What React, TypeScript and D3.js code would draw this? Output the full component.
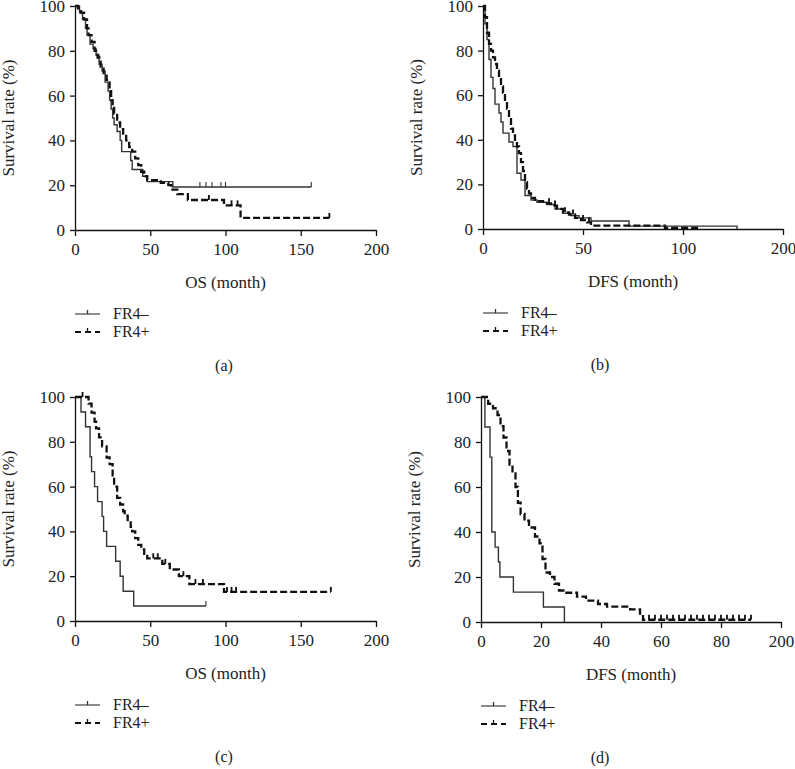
import { useEffect, useRef } from 'react';
import * as d3 from 'd3';

// ---------- data ----------
const yTicks = [0, 20, 40, 60, 80, 100];
const osTicks = [0, 50, 100, 150, 200];
const osTickLabels = ['0', '50', '100', '150', '200'];
const dfsBTicks = [0, 50, 100, 150];
const dfsBTickLabels = ['0', '50', '100', '200'];
const dfsDTicks = [0, 20, 40, 60, 80, 100];
const dfsDTickLabels = ['0', '20', '40', '60', '80', '200'];
const groupNames = ['FR4\u2013', 'FR4+'];

// (a) OS, all patients
const aNegT = [3, 5, 7, 8, 10, 12, 14, 16, 18, 20, 22, 23, 24, 25, 26, 28, 30, 31, 37, 38, 45, 48, 65];
const aNegS = [97, 94, 90, 87, 83, 81, 78, 74, 71, 66, 62, 58, 54, 50, 47, 44, 40, 35, 31, 27, 24, 21.6, 19.2];
const aNegCensor = [83, 87, 91, 97, 100, 157];
const aNegEnd = 157;
const aPosT = [2, 4, 6, 8, 9, 11, 13, 15, 17, 19, 21, 23, 24, 25, 26, 28, 30, 32, 34, 36, 38, 40, 42, 44, 46, 48, 57, 62, 64, 68, 75, 99, 110];
const aPosS = [99, 97, 94, 90, 87, 84, 80, 77, 73, 70, 67, 62, 58, 55, 52, 48, 45, 43, 40, 37, 35, 32, 29, 26, 24, 22.3, 21, 20, 18, 16, 13.4, 11, 5.4];
const aPosCensor = [89, 104, 108, 169];
const aPosEnd = 169;

// (b) DFS, all patients
const bNegT = [1, 2, 3, 4, 5, 6, 8, 9, 10, 13, 15, 17, 19, 21, 24, 27, 32, 36, 40, 44, 48, 54, 73, 127];
const bNegS = [92, 85, 76, 68, 63, 56, 52, 48, 43, 39, 37, 25, 22, 15, 13, 12, 11, 9, 7, 6, 5, 3.6, 1.3, 0];
const bNegCensor: number[] = [];
const bNegEnd = 127;
const bPosT = [1, 2, 3, 4, 5, 6, 7, 8, 9, 10, 11, 12, 13, 14, 15, 16, 17, 18, 19, 20, 21, 22, 23, 24, 26, 30, 34, 37, 40, 43, 46, 49, 52, 54, 91];
const bPosS = [95, 88, 83, 80, 77, 74, 71, 68, 64, 61, 57, 54, 50, 45, 42, 40, 37, 34, 30, 26, 21, 18, 16, 14, 12.5, 11.5, 10.5, 9, 7.5, 6.5, 5, 4, 3, 1.5, 0.5];
const bPosCensor = [33, 36, 41, 45, 50, 53];
const bPosEnd = 108;

// (c) OS, subgroup
const cNegT = [4, 7, 10, 11, 13, 15, 18, 19, 21, 27, 30, 32, 39];
const cNegS = [93.3, 86.7, 73.3, 66.7, 60, 53.3, 46.7, 40, 33.3, 26.7, 20, 13.3, 6.7];
const cNegCensor = [87];
const cNegEnd = 87;
const cPosT = [9, 11, 13, 14, 16, 18, 21, 23, 25, 26, 28, 30, 32, 33, 35, 37, 38, 40, 42, 44, 46, 48, 58, 63, 69, 76, 99];
const cPosS = [97, 93, 89, 86, 82, 78, 73, 70, 65, 60, 55, 52, 49, 47, 44, 42, 40, 37, 34, 32, 30, 28, 25.5, 23, 20, 16.5, 13];
const cPosCensor = [5, 52, 55, 60, 72, 80, 85, 101, 104, 107, 170];
const cPosEnd = 170;

// (d) DFS, subgroup
const dNegT = [1.3, 3, 3.6, 4.7, 5.8, 6.3, 10.8, 20.8, 27.8];
const dNegS = [86.7, 73.3, 40, 33.3, 26.7, 20, 13.3, 6.7, 0];
const dNegCensor: number[] = [];
const dNegEnd = 27.8;
const dPosT = [2.4, 4, 5.5, 6.5, 7.5, 8.5, 9.5, 10.5, 11.5, 12.3, 13.2, 14.5, 16, 18, 19.5, 20.5, 21.5, 23, 24.5, 26, 28, 32, 35, 39, 42, 49.7, 53, 54];
const dPosS = [97, 95, 92, 87, 82, 76, 70, 66, 60, 53, 48, 45, 42, 38, 35, 28, 22, 20, 17, 14, 13, 11.3, 9.5, 8, 6.8, 5.6, 3.7, 1];
const dPosCensor = [56, 58, 60, 62, 64, 66, 68, 70, 72, 74, 76, 78, 80, 82, 84, 86, 88, 90];
const dPosEnd = 90;

interface Curve {
  times: number[];
  surv: number[];
  censor: number[];
  end: number;
}

interface PanelSpec {
  x0: number;
  x1: number;
  yTop: number;
  yBottom: number;
  xMax: number;
  ticks: number[];
  tickLabels: string[];
  xTitle: string;
  caption: string;
  captionX: number;
  neg: Curve;
  pos: Curve;
}

const FONT = "'Liberation Serif', 'Times New Roman', serif";

function stepPoints(c: Curve): [number, number][] {
  const pts: [number, number][] = [[0, 100]];
  let s = 100;
  c.times.forEach((t, i) => {
    pts.push([t, s]);
    s = c.surv[i];
    pts.push([t, s]);
  });
  pts.push([c.end, s]);
  return pts;
}

function survAt(c: Curve, t: number) {
  let s = 100;
  c.times.forEach((ti, i) => {
    if (ti <= t) s = c.surv[i];
  });
  return s;
}

function Panel({ spec }: { spec: PanelSpec }) {
  const ref = useRef<SVGGElement>(null);

  useEffect(() => {
    if (!ref.current) return;
    const g = d3.select(ref.current);
    g.selectAll('*').remove();

    const x = d3.scaleLinear().domain([0, spec.xMax]).range([spec.x0, spec.x1]);
    const y = d3.scaleLinear().domain([0, 100]).range([spec.yBottom, spec.yTop]);

    // axes
    const xAxis = g
      .append('g')
      .attr('transform', `translate(0,${spec.yBottom})`)
      .call(
        d3
          .axisBottom(x)
          .tickValues(spec.ticks)
          .tickFormat((_d, i) => spec.tickLabels[i])
          .tickSize(6)
          .tickSizeOuter(0)
          .tickPadding(7),
      );
    const yAxis = g
      .append('g')
      .attr('transform', `translate(${spec.x0},0)`)
      .call(d3.axisLeft(y).tickValues(yTicks).tickSize(5).tickSizeOuter(0).tickPadding(5));
    [xAxis, yAxis].forEach((ax) => {
      ax.selectAll('.domain, .tick line').attr('stroke', '#111').attr('stroke-width', 1.3);
      ax.selectAll('text').attr('fill', '#222').attr('font-size', '17px').attr('font-family', FONT);
    });

    const line = d3
      .line<[number, number]>()
      .x((d) => x(d[0]))
      .y((d) => y(d[1]));

    const styles = [
      { c: spec.neg, stroke: '#333', width: 1.4, dash: null as string | null },
      { c: spec.pos, stroke: '#111', width: 2.3, dash: '7,3' },
    ];

    styles.forEach((st) => {
      g.append('path')
        .datum(stepPoints(st.c))
        .attr('fill', 'none')
        .attr('stroke', st.stroke)
        .attr('stroke-width', st.width)
        .attr('stroke-dasharray', st.dash)
        .attr('d', line);
      st.c.censor.forEach((t) => {
        const s = survAt(st.c, t);
        g.append('line')
          .attr('x1', x(t))
          .attr('x2', x(t))
          .attr('y1', y(s))
          .attr('y2', y(s) - 5)
          .attr('stroke', st.stroke)
          .attr('stroke-width', st.width * 0.8);
      });
    });

    // titles
    g.append('text')
      .attr('x', (spec.x0 + spec.x1) / 2)
      .attr('y', spec.yBottom + 58)
      .attr('text-anchor', 'middle')
      .attr('font-family', FONT)
      .attr('font-size', '17px')
      .attr('fill', '#222')
      .text(spec.xTitle);

    g.append('text')
      .attr('transform', `translate(${spec.x0 - 61},${(spec.yTop + spec.yBottom) / 2}) rotate(-90)`)
      .attr('text-anchor', 'middle')
      .attr('font-family', FONT)
      .attr('font-size', '17px')
      .attr('fill', '#222')
      .text('Survival rate (%)');

    // legend
    styles.forEach((st, i) => {
      const ly = spec.yBottom + 84 + i * 18;
      g.append('line')
        .attr('x1', spec.x0)
        .attr('x2', spec.x0 + 25)
        .attr('y1', ly)
        .attr('y2', ly)
        .attr('stroke', st.stroke)
        .attr('stroke-width', st.width * 0.8)
        .attr('stroke-dasharray', st.dash ? '6,4' : null);
      g.append('line')
        .attr('x1', spec.x0 + 12.5)
        .attr('x2', spec.x0 + 12.5)
        .attr('y1', ly)
        .attr('y2', ly - 4)
        .attr('stroke', st.stroke)
        .attr('stroke-width', 1.3);
      g.append('text')
        .attr('x', spec.x0 + 38)
        .attr('y', ly + 5)
        .attr('font-family', FONT)
        .attr('font-size', '16px')
        .attr('fill', '#222')
        .text(groupNames[i]);
    });

    g.append('text')
      .attr('x', spec.captionX)
      .attr('y', spec.yBottom + 141)
      .attr('text-anchor', 'middle')
      .attr('font-family', FONT)
      .attr('font-size', '16px')
      .attr('fill', '#222')
      .text(spec.caption);
  }, [spec]);

  return <g ref={ref} />;
}

const panels: PanelSpec[] = [
  {
    x0: 75, x1: 376, yTop: 6, yBottom: 230, xMax: 200,
    ticks: osTicks, tickLabels: osTickLabels, xTitle: 'OS (month)', caption: '(a)', captionX: 224,
    neg: { times: aNegT, surv: aNegS, censor: aNegCensor, end: aNegEnd },
    pos: { times: aPosT, surv: aPosS, censor: aPosCensor, end: aPosEnd },
  },
  {
    x0: 483, x1: 783, yTop: 6, yBottom: 229, xMax: 150,
    ticks: dfsBTicks, tickLabels: dfsBTickLabels, xTitle: 'DFS (month)', caption: '(b)', captionX: 600,
    neg: { times: bNegT, surv: bNegS, censor: bNegCensor, end: bNegEnd },
    pos: { times: bPosT, surv: bPosS, censor: bPosCensor, end: bPosEnd },
  },
  {
    x0: 75, x1: 376, yTop: 397, yBottom: 621, xMax: 200,
    ticks: osTicks, tickLabels: osTickLabels, xTitle: 'OS (month)', caption: '(c)', captionX: 224,
    neg: { times: cNegT, surv: cNegS, censor: cNegCensor, end: cNegEnd },
    pos: { times: cPosT, surv: cPosS, censor: cPosCensor, end: cPosEnd },
  },
  {
    x0: 481, x1: 781, yTop: 397, yBottom: 622, xMax: 100,
    ticks: dfsDTicks, tickLabels: dfsDTickLabels, xTitle: 'DFS (month)', caption: '(d)', captionX: 600,
    neg: { times: dNegT, surv: dNegS, censor: dNegCensor, end: dNegEnd },
    pos: { times: dPosT, surv: dPosS, censor: dPosCensor, end: dPosEnd },
  },
];

export default function App() {
  return (
    <svg
      width={795}
      height={769}
      style={{ position: 'absolute', left: 0, top: 0, background: '#fff' }}
    >
      {panels.map((p) => (
        <Panel key={p.caption} spec={p} />
      ))}
    </svg>
  );
}
